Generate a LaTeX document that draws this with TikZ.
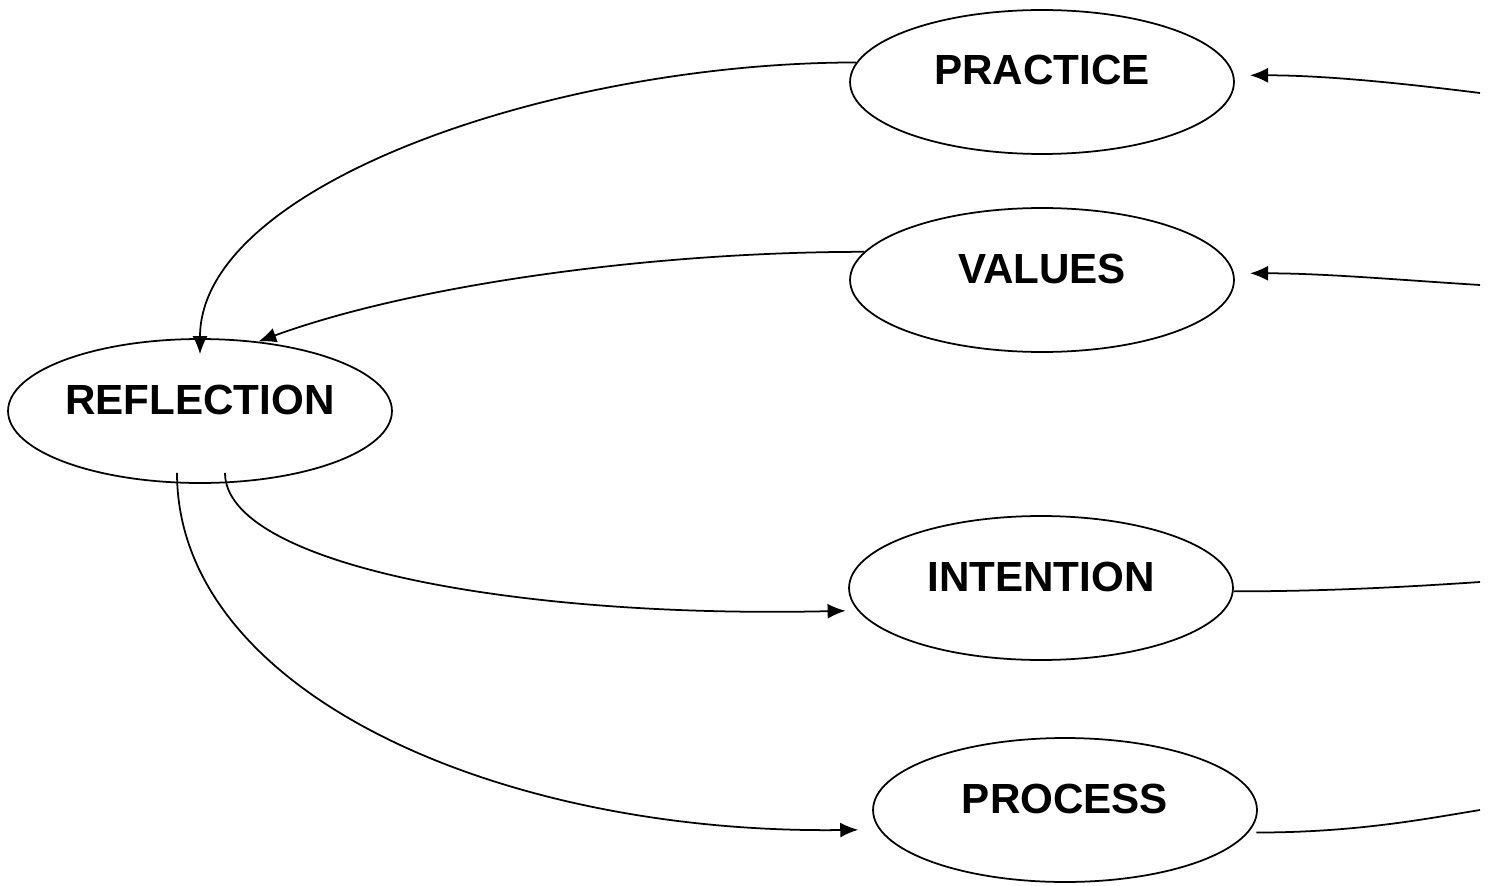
\documentclass[tikz,border=0pt]{standalone}
\usepackage{fontspec}
\setmainfont{Liberation Sans}
\usepackage{tikz}
\usetikzlibrary{arrows.meta,shapes.geometric,calc}

\begin{document}
\begin{tikzpicture}[x=0.02cm,y=-0.02cm,line width=1pt,
  >={Latex[length=0.36cm,width=0.3cm]},
  oval/.style={ellipse,draw,inner sep=0pt,minimum width=7.68cm,minimum height=2.88cm,
    font=\fontsize{24}{28}\selectfont\bfseries,text height=0.6cm,text depth=0.48cm}]
\useasboundingbox (0,0) rectangle (1493,885);
\node[oval] (practice) at (1042,82) {PRACTICE};
\node[oval] (values) at (1042,280) {VALUES};
\node[oval] (reflection) at (200,411) {REFLECTION};
\node[oval] (intention) at (1041,588) {INTENTION};
\node[oval] (process) at (1065,810) {PROCESS};
% loose ends on the right
\coordinate (in1) at (1480,93);
\coordinate (in2) at (1480,285);
\coordinate (out1) at (1480,582);
\coordinate (out2) at (1480,810);
% back to reflection
\draw[->] (practice.174) .. controls +(-300,0) and +(0,-170) .. ($(reflection.north)+(0,16)$);
\draw[->] (values.171) .. controls +(-220,0) and +(150,-55) .. (reflection.50);
% out of reflection
\draw[->,shorten >=0.24cm] ($(reflection.south)+(25,-11)$) .. controls +(0,90) and +(-350,8) .. (intention.187);
\draw[->,shorten >=0.42cm] ($(reflection.south)+(-23,-11)$) .. controls +(0,220) and +(-380,5) .. (process.186);
% right side
\draw[->,shorten >=0.32cm] (in1) .. controls +(-80,-10) and +(90,0) .. (practice.2);
\draw[->,shorten >=0.32cm] (in2) .. controls +(-80,-5) and +(90,0) .. (values.2);
\draw (intention.-1) .. controls +(100,0) and +(-60,4) .. (out1);
\draw[shorten <=0.16cm] (process.-7) .. controls +(110,0) and +(-50,8) .. (out2);
\end{tikzpicture}
\end{document}
